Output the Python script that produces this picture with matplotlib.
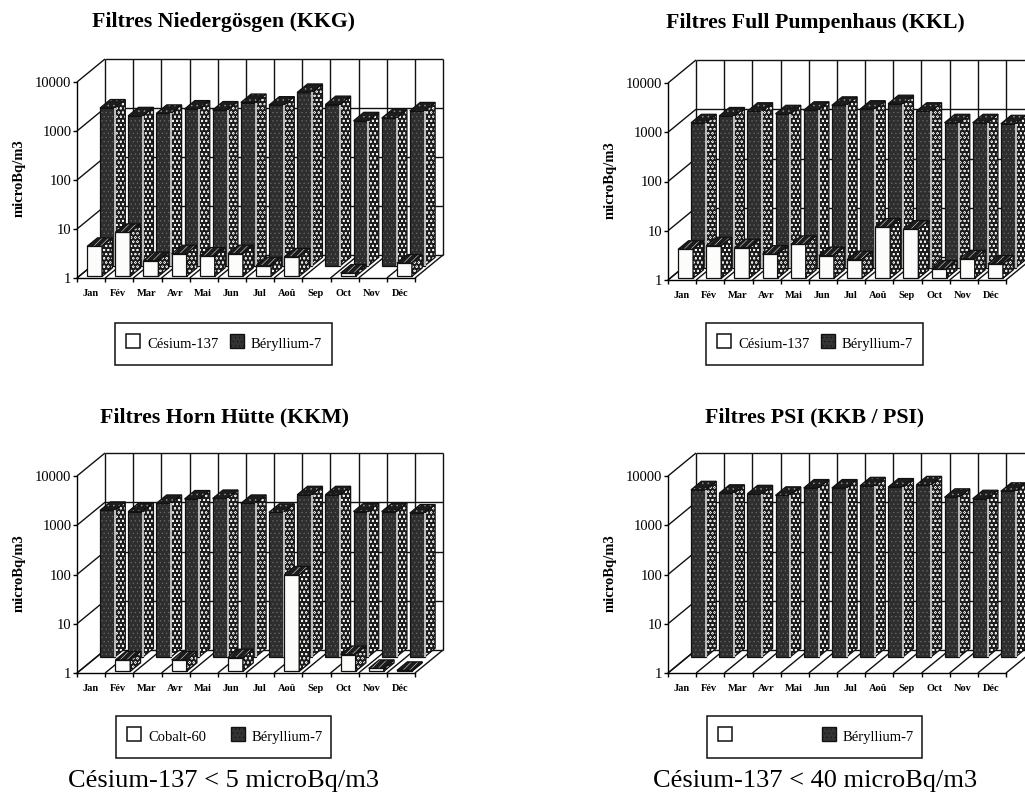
import matplotlib
matplotlib.use("Agg")
import matplotlib.pyplot as plt
from matplotlib.patches import Polygon, Rectangle
from matplotlib.transforms import IdentityTransform
import numpy as np

plt.rcParams['font.family'] = ['Liberation Serif', 'DejaVu Serif']
plt.rcParams['hatch.linewidth'] = 0.35

W = 1025
H = 794

mois = ["Jan", "Fév", "Mar", "Avr", "Mai", "Jun", "Jul", "Aoû", "Sep", "Oct", "Nov", "Déc"]
ticks_y = [1, 10, 100, 1000, 10000]
ticks_y_txt = ["1", "10", "100", "1000", "10000"]

# valeurs (None = pas de barre)
kkg_cs = [4.1, 7.9, 2.1, 2.9, 2.6, 2.9, 1.65, 2.5, None, 1.17, None, 1.87]
kkg_be = [1660, 1150, 1290, 1580, 1510, 2150, 1900, 3450, 1950, 910, 1030, 1450]

kkl_cs = [3.9, 4.6, 4.2, 3.1, 4.9, 2.9, 2.4, 11, 10, 1.55, 2.5, 1.96]
kkl_be = [880, 1210, 1510, 1340, 1580, 1990, 1660, 2150, 1510, 880, 880, 840]

kkm_co = [None, 1.7, None, 1.7, None, 1.9, None, 91, None, 2.2, 1.15, 1.05]
kkm_be = [940, 890, 1300, 1600, 1640, 1300, 860, 1950, 1950, 890, 890, 830]

psi_cs = [None] * 12
psi_be = [2460, 2090, 2040, 1900, 2670, 2670, 2960, 2800, 3100, 1730, 1620, 2290]

DX = 28
DY = 23

fig = plt.figure(figsize=(W / 100, H / 100), dpi=100)


def poly(ax, pts, fc, z, hatch=None, hc="black"):
    ax.add_patch(Polygon(pts, closed=True, facecolor=fc, edgecolor=hc, hatch=hatch, lw=0,
                         transform=IdentityTransform(), clip_on=False, zorder=z))
    ax.add_patch(Polygon(pts, closed=True, fill=False, edgecolor="#111111", lw=0.9,
                         transform=IdentityTransform(), clip_on=False, zorder=z))


def ligne(ax, a, b, z=1, lw=1.0, c="#111111"):
    ax.plot([a[0], b[0]], [a[1], b[1]], color=c, lw=lw, transform=IdentityTransform(),
            clip_on=False, zorder=z, solid_capstyle="butt")


def barre(ax, i, v, d0, d1, z, sombre, leve=0):
    # une barre 3D : face, cote, dessus
    def P(x, y, d):
        return ax.transData.transform((x, y)) + np.array([DX * d, DY * d + leve])
    a = i + 0.29
    b = i + 0.82
    front = [P(a, 1, d0), P(b, 1, d0), P(b, v, d0), P(a, v, d0)]
    side = [P(b, 1, d0), P(b, 1, d1), P(b, v, d1), P(b, v, d0)]
    top = [P(a, v, d0), P(b, v, d0), P(b, v, d1), P(a, v, d1)]
    if sombre:
        poly(ax, front, "#2e2e2e", z, "....", "#6e6e6e")
        poly(ax, top, "#1c1c1c", z, "...", "#999999")
    else:
        poly(ax, front, "#fcfcfa", z)
        poly(ax, top, "#1c1c1c", z, "/////", "#f4f4f4")
    poly(ax, side, "#1c1c1c", z, "oooo", "#f0f0f0")
    if sombre:
        ligne(ax, P(b, 1, d0), P(b, v, d0), z + 0.1, 1.2, "#d8d8d8")


def panneau(x0, y1, y4, titre, tx, ty, serie1, serie2, nom1, nom2, lx, ly, lw_box, leve):
    ax = fig.add_axes([x0 / W, (H - y1) / H, 338 / W, (y1 - y4) / H])
    ax.set_yscale("log")
    ax.set_xlim(0, 12)
    ax.set_ylim(1, 10000)
    ax.patch.set_visible(False)
    for s in ["top", "right"]:
        ax.spines[s].set_visible(False)
    ax.spines["left"].set_linewidth(1.0)
    ax.spines["bottom"].set_linewidth(1.0)
    ax.set_yticks(ticks_y)
    ax.set_yticklabels(ticks_y_txt, fontsize=10.5)
    ax.minorticks_off()
    ax.tick_params(axis="y", length=3, width=1, pad=1)
    ax.set_xticks(range(13))
    ax.set_xticklabels([])
    ax.tick_params(axis="x", length=3, width=1)
    for i, m in enumerate(mois):
        ax.text(i + 0.47, -0.055, m, transform=ax.get_xaxis_transform(), ha="center", va="top",
                fontsize=7.5, fontweight="bold")
    fig.text((x0 - 58) / W, 1 - (y1 - 100) / H, "microBq/m3", rotation=90, ha="center", va="center",
             fontsize=10.5, fontweight="bold")

    def F(x, y, d=0.0):
        return ax.transData.transform((x, y)) + np.array([DX * d, DY * d])

    # parois du fond et sol
    for t in ticks_y:
        ligne(ax, F(0, t), F(0, t, 1))
        ligne(ax, F(0, t, 1), F(12, t, 1))
    for i in range(13):
        ligne(ax, F(i, 1), F(i, 1, 1))
        ligne(ax, F(i, 1, 1), F(i, 10000, 1))

    for i, v in enumerate(serie2):
        barre(ax, i, v, 0.53, 0.9, 3, True, leve)
    for i, v in enumerate(serie1):
        if v is not None:
            barre(ax, i, v, 0.07, 0.44, 4, False)

    fig.text(tx / W, 1 - ty / H, titre, ha="center", va="center", fontsize=15.7, fontweight="bold")

    # legende
    fig.add_artist(Rectangle((lx / W, 1 - (ly + 42) / H), lw_box / W, 42 / H, transform=fig.transFigure,
                             fill=False, edgecolor="#111111", lw=1.1))
    fig.add_artist(Rectangle(((lx + 11) / W, 1 - (ly + 25) / H), 14 / W, 14 / H, transform=fig.transFigure,
                             facecolor="white", edgecolor="#111111", lw=1.1))
    fig.add_artist(Rectangle(((lx + 115) / W, 1 - (ly + 25) / H), 14 / W, 14 / H, transform=fig.transFigure,
                             facecolor="#333333", edgecolor="#111111", lw=1.0, hatch="...."))
    fig.text((lx + 32) / W, 1 - (ly + 25) / H, nom1, ha="left", va="baseline", fontsize=10.5)
    fig.text((lx + 136) / W, 1 - (ly + 25) / H, nom2, ha="left", va="baseline", fontsize=10.5)


panneau(77, 278, 82, "Filtres Niedergösgen (KKG)", 224, 22, kkg_cs, kkg_be, "Césium-137", "Béryllium-7", 115, 323, 217, 0)
panneau(668, 280, 83, "Filtres Full Pumpenhaus (KKL)", 815, 23, kkl_cs, kkl_be, "Césium-137", "Béryllium-7", 706, 323, 217, 0)
panneau(77, 673, 476, "Filtres Horn Hütte (KKM)", 224, 417, kkm_co, kkm_be, "Cobalt-60", "Béryllium-7", 116, 716, 215, 4)
panneau(668, 673, 476, "Filtres PSI (KKB / PSI)", 815, 417, psi_cs, psi_be, "", "Béryllium-7", 707, 716, 215, 4)

fig.text(224 / W, 1 - 781 / H, "Césium-137 < 5 microBq/m3", ha="center", va="center", fontsize=19)
fig.text(815 / W, 1 - 781 / H, "Césium-137 < 40 microBq/m3", ha="center", va="center", fontsize=19)

fig.savefig("out.png", dpi=100)
